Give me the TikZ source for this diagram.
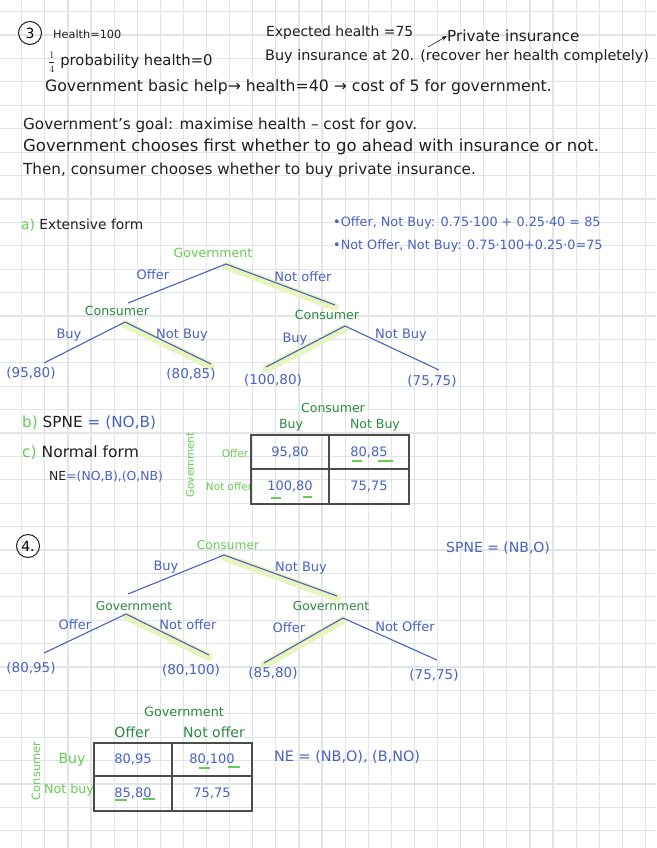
\documentclass[tikz,border=0pt]{standalone}
\usepackage{fontspec}
\setmainfont{DejaVu Sans}
\usetikzlibrary{arrows.meta, positioning}

\definecolor{inkblue}{HTML}{4862C4}
\definecolor{inkgreen}{HTML}{2B8A3E}
\definecolor{inklime}{HTML}{66CC55}
\definecolor{hilite}{HTML}{EAF4BE}
\definecolor{gridgray}{HTML}{E1E5E7}
\definecolor{penblack}{HTML}{1F1F1F}

\begin{document}
\begin{tikzpicture}[
    x=1pt, y=-1pt,
    note/.style={anchor=west, inner sep=0pt, text=penblack, font=\fontsize{15.2}{17}\selectfont},
    calc/.style={note, text=inkblue, font=\fontsize{12.8}{14}\selectfont},
    player/.style={inner sep=0pt, text=inkgreen, font=\fontsize{12.6}{14}\selectfont},
    rootplayer/.style={player, text=inklime},
    move/.style={inner sep=0pt, text=inkblue, font=\fontsize{13}{14}\selectfont},
    payoff/.style={inner sep=0pt, text=inkblue, font=\fontsize{13.5}{15}\selectfont},
    head/.style={inner sep=0pt, text=inkgreen, font=\fontsize{12.5}{14}\selectfont},
    side/.style={inner sep=0pt, text=inklime, font=\fontsize{10.5}{12}\selectfont},
    cell/.style={draw=penblack!80, line width=1.2pt, text=inkblue, font=\fontsize{13}{14}\selectfont},
    branch/.style={draw=inkblue, line width=1.1pt},
    spne/.style={draw=hilite, line width=8pt, line cap=round, transform canvas={yshift=-2pt}},
    underl/.style={draw=inklime, line width=1.3pt},
    num/.style={draw=penblack, circle, line width=1pt, minimum size=23pt, inner sep=0pt, font=\fontsize{14}{15}\selectfont},
    gridline/.style={draw=gridgray, line width=1.2pt},
    >=Stealth
]

\useasboundingbox (0,0) rectangle (656,848);
\fill[white] (0,0) rectangle (656,848);
\foreach \i in {0,...,27} \draw[gridline] ({21.7+23.1*\i},0) -- ++(0,848);
\foreach \j in {0,...,35} \draw[gridline] (0,{11.7+23.4*\j}) -- ++(656,0);

\node[num] (q3) at (30,33) {3};
\node[note, font=\fontsize{11.3}{12}\selectfont] (health) at (53,34) {Health=100};
\node[note, font=\fontsize{14.8}{16}\selectfont] (prob) at (48,62) {{\fontsize{10}{10}\selectfont$\displaystyle\frac{1}{4}$} probability health=0};
\node[note, font=\fontsize{15.7}{17}\selectfont] (help) at (45,87) {Government basic help→ health=40 → cost of 5 for government.};
\node[note, font=\fontsize{13.9}{15}\selectfont] (expect) at (266,33) {Expected health =75};
\node[note, font=\fontsize{14.4}{15}\selectfont] (buyins) at (265,57) {Buy insurance at 20. (recover her health completely)};
\node[note, font=\fontsize{15.2}{16}\selectfont] (priv) at (447,36) {Private insurance};
\coordinate (privtail) at (428,47);
\draw[->, penblack, line width=0.6pt] (privtail) -- (priv.west);

\node[note] (goal) at (23,125) {Government's goal: maximise health – cost for gov.};
\node[note, font=\fontsize{16.5}{18}\selectfont] (first) at (23,147) {Government chooses first whether to go ahead with insurance or not.};
\node[note] (then) at (23,170) {Then, consumer chooses whether to buy private insurance.};

\node[note, font=\fontsize{13.8}{15}\selectfont] (parta) at (21,225) {\textcolor{inklime}{a)} Extensive form};
\node[calc] (calc1) at (333,223) {•Offer, Not Buy: 0.75·100 + 0.25·40 = 85};
\node[calc] (calc2) at (333,246) {•Not Offer, Not Buy: 0.75·100+0.25·0=75};

\coordinate (t1) at (226,264);
\coordinate (t1L) at (128,303);
\coordinate (t1R) at (335,305);
\coordinate (t1La) at (125,322);
\coordinate (t1Ra) at (345,326);
\coordinate (t1LL) at (44,363);
\coordinate (t1LR) at (211,364);
\coordinate (t1RL) at (266,367);
\coordinate (t1RR) at (439,370);

\draw[spne] (t1) -- (t1R);
\draw[spne] (t1La) -- (t1LR);
\draw[spne] (t1Ra) -- (t1RL);

\draw[branch] (t1) -- (t1L);
\draw[branch] (t1) -- (t1R);
\draw[branch] (t1La) -- (t1LL);
\draw[branch] (t1La) -- (t1LR);
\draw[branch] (t1Ra) -- (t1RL);
\draw[branch] (t1Ra) -- (t1RR);

\node[rootplayer] (gov1) at (213,253) {Government};
\node[player] (con1L) at (117,311) {Consumer};
\node[player] (con1R) at (327,315) {Consumer};
\node[move] (offer1) at (153,275) {Offer};
\node[move] (notoffer1) at (303,277) {Not offer};
\node[move] (buy1L) at (69,335) {Buy};
\node[move] (notbuy1L) at (182,335) {Not Buy};
\node[move] (buy1R) at (295,339) {Buy};
\node[move] (notbuy1R) at (401,335) {Not Buy};
\node[payoff] (p1a) at (31,373) {(95,80)};
\node[payoff] (p1b) at (191,374) {(80,85)};
\node[payoff] (p1c) at (273,380) {(100,80)};
\node[payoff] (p1d) at (432,381) {(75,75)};

\node[note, font=\fontsize{15.3}{17}\selectfont] (partb) at (22,423) {\textcolor{inklime}{b)} SPNE \textcolor{inkblue}{= (NO,B)}};
\node[note, font=\fontsize{15.5}{17}\selectfont] (partc) at (22,453) {\textcolor{inklime}{c)} Normal form};
\node[note, font=\fontsize{12.4}{14}\selectfont] (ne1) at (49,477) {NE\textcolor{inkblue}{=(NO,B),(O,NB)}};

\node[head] (colpl1) at (333,408) {Consumer};
\node[head] (colb1) at (291,425) {Buy};
\node[head] (colnb1) at (375,425) {Not Buy};
\node[side, rotate=90] (rowpl1) at (190,465) {Government};
\node[side] (rowo1) at (235,454) {Offer};
\node[side] (rowno1) at (229,487) {Not offer};
\node[cell, minimum width=78pt, minimum height=34pt] (c1a) at (290,452) {95,80};
\node[cell, minimum width=80pt, minimum height=34pt] (c1b) at (369,452) {80,85};
\node[cell, minimum width=78pt, minimum height=35pt] (c1c) at (290,486.5) {100,80};
\node[cell, minimum width=80pt, minimum height=35pt] (c1d) at (369,486.5) {75,75};
\draw[underl] (352,461) -- (362,461);
\draw[underl] (378,461) -- (393,461);
\draw[underl] (271,498) -- (281,498);
\draw[underl] (303,497) -- (312,497);

\node[num] (q4) at (28,546) {4.};
\node[note, text=inkblue, font=\fontsize{14}{15}\selectfont] (spne4) at (446,548) {SPNE = (NB,O)};

\coordinate (t2) at (224,555);
\coordinate (t2L) at (128,594);
\coordinate (t2R) at (337,596);
\coordinate (t2La) at (126,614);
\coordinate (t2Ra) at (343,618);
\coordinate (t2LL) at (44,653);
\coordinate (t2LR) at (209,655);
\coordinate (t2RL) at (264,663);
\coordinate (t2RR) at (437,660);

\draw[spne] (t2) -- (t2R);
\draw[spne] (t2La) -- (t2LR);
\draw[spne] (t2Ra) -- (t2RL);

\draw[branch] (t2) -- (t2L);
\draw[branch] (t2) -- (t2R);
\draw[branch] (t2La) -- (t2LL);
\draw[branch] (t2La) -- (t2LR);
\draw[branch] (t2Ra) -- (t2RL);
\draw[branch] (t2Ra) -- (t2RR);

\node[rootplayer, font=\fontsize{12.2}{14}\selectfont] (con2) at (228,545) {Consumer};
\node[player, font=\fontsize{12.2}{14}\selectfont] (gov2L) at (134,606) {Government};
\node[player, font=\fontsize{12.2}{14}\selectfont] (gov2R) at (331,606) {Government};
\node[move] (buy2) at (166,567) {Buy};
\node[move] (notbuy2) at (301,568) {Not Buy};
\node[move] (offer2L) at (75,625) {Offer};
\node[move] (notoffer2L) at (188,625) {Not offer};
\node[move] (offer2R) at (289,628) {Offer};
\node[move] (notoffer2R) at (405,627) {Not Offer};
\node[payoff] (p2a) at (31,668) {(80,95)};
\node[payoff] (p2b) at (191,670) {(80,100)};
\node[payoff] (p2c) at (273,673) {(85,80)};
\node[payoff] (p2d) at (434,675) {(75,75)};

\node[head, font=\fontsize{12.8}{14}\selectfont] (colpl2) at (184,712) {Government};
\node[head, font=\fontsize{14}{15}\selectfont] (colo2) at (132,732) {Offer};
\node[head, font=\fontsize{14}{15}\selectfont] (colno2) at (214,732) {Not offer};
\node[side, rotate=90, font=\fontsize{11.4}{12}\selectfont] (rowpl2) at (36,771) {Consumer};
\node[side, font=\fontsize{14}{15}\selectfont] (rowb2) at (72,760) {Buy};
\node[side, font=\fontsize{12.7}{14}\selectfont] (rownb2) at (69,790) {Not buy};
\node[cell, minimum width=78pt, minimum height=33pt] (c2a) at (133,759.5) {80,95};
\node[cell, minimum width=80pt, minimum height=33pt] (c2b) at (212,759.5) {80,100};
\node[cell, minimum width=78pt, minimum height=35pt] (c2c) at (133,793.5) {85,80};
\node[cell, minimum width=80pt, minimum height=35pt] (c2d) at (212,793.5) {75,75};
\draw[underl] (199,768) -- (210,768);
\draw[underl] (228,767) -- (240,767);
\draw[underl] (115,800) -- (127,800);
\draw[underl] (143,799) -- (155,799);
\node[note, text=inkblue, font=\fontsize{14.4}{16}\selectfont] (ne2) at (274,757) {NE = (NB,O), (B,NO)};

\end{tikzpicture}
\end{document}
